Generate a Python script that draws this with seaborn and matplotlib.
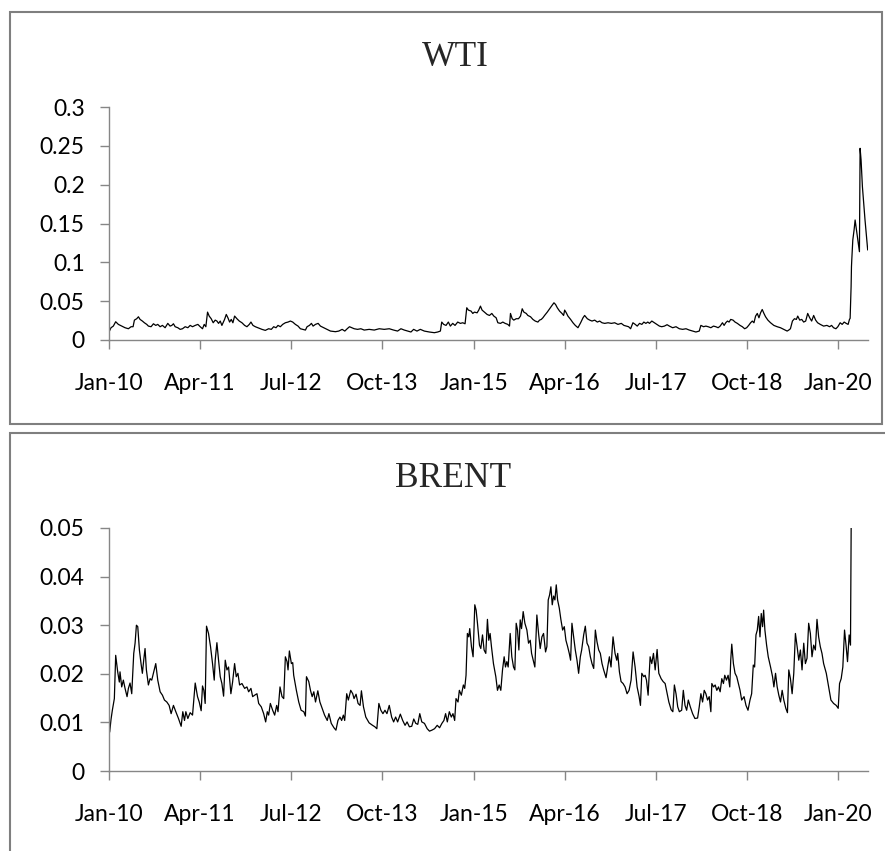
"""
WTI and BRENT volatility, Jan-2010 to May-2020, two stacked panels.
"""

import matplotlib.pyplot as plt
import matplotlib.dates as mdates
from matplotlib.patches import Rectangle
from matplotlib.ticker import FixedLocator, FuncFormatter
import numpy as np
import pandas as pd
import seaborn as sns

sns.set_style("white")
plt.rcParams["font.family"] = ["Lato", "DejaVu Sans"]

# x = months after Jan-2010
wti_months = [
    0.00, 0.33, 0.71, 1.10, 1.54, 2.09, 2.64, 3.19, 3.63, 3.96,
    4.18, 4.56, 4.84, 5.11, 5.49, 5.82, 6.21, 6.48, 6.92, 7.31,
    7.69, 8.02, 8.41, 8.79, 9.23, 9.67, 10.05, 10.33, 10.60, 10.88,
    11.32, 11.70, 12.09, 12.53, 12.97, 13.35, 13.74, 14.18, 14.62, 15.00,
    15.38, 15.66, 15.93, 16.21, 16.48, 16.81, 17.14, 17.47, 17.75, 18.02,
    18.30, 18.57, 19.01, 19.29, 19.56, 19.84, 20.11, 20.38, 20.66, 21.04,
    21.43, 21.87, 22.31, 22.69, 23.08, 23.35, 23.68, 24.07, 24.62, 25.16,
    25.71, 26.26, 26.70, 27.09, 27.47, 27.80, 28.19, 28.57, 29.01, 29.45,
    29.84, 30.22, 30.66, 31.10, 31.48, 31.87, 32.31, 32.58, 32.97, 33.30,
    33.57, 33.96, 34.40, 34.78, 35.33, 35.88, 36.43, 37.25, 37.80, 38.35,
    38.79, 39.18, 39.56,
    40.33, 40.88, 41.43, 41.98, 42.80, 43.63, 44.45, 45.27, 46.10, 46.81,
    47.47, 48.02, 48.57, 49.12, 49.67, 50.11, 50.66, 51.21, 51.87, 52.69,
    53.52, 54.07, 54.51, 54.73, 55.05, 55.44, 55.82, 56.15, 56.54, 56.92,
    57.36, 57.80, 58.19, 58.57, 58.85, 59.12, 59.56, 59.84, 60.11, 60.55,
    60.82, 61.10, 61.37, 61.76, 62.20, 62.58, 62.97, 63.30, 63.68, 63.96,
    64.40, 64.78, 65.16, 65.60, 65.88, 66.04, 66.32, 66.59, 66.98, 67.36,
    67.69, 67.97, 68.24, 68.63, 68.90, 69.34, 69.73, 70.11, 70.55, 70.82,
    71.10, 71.37, 71.65, 72.09, 72.47, 72.86, 73.19, 73.46, 73.74, 74.12,
    74.51, 74.78, 74.95, 75.22, 75.49, 75.93, 76.32, 76.70, 77.14, 77.58,
    77.97, 78.24, 78.68, 79.07, 79.45, 79.89, 80.33, 80.71, 81.10,
    81.54, 82.09, 82.63, 83.18, 83.72, 84.27, 84.70, 85.09, 85.47, 85.80,
    86.18, 86.56, 86.89, 87.27, 87.65, 87.98, 88.31, 88.63, 88.91, 89.29,
    89.72, 90.16, 90.54, 90.92, 91.36, 91.80, 92.18, 92.72, 93.27, 93.81,
    94.36, 94.91, 95.45, 96.00, 96.54, 97.09, 97.36, 97.80, 98.18, 98.56,
    99.00, 99.43, 99.82, 100.20, 100.53, 100.91, 101.18, 101.45, 101.73, 102.00,
    102.27, 102.65, 102.98, 103.36, 103.80, 104.18, 104.56, 104.89, 105.22, 105.54,
    105.82, 106.09, 106.36, 106.64, 106.91, 107.18, 107.45, 107.73, 108.00, 108.38,
    108.82, 109.36, 109.91, 110.45, 111.00, 111.55, 111.82, 112.09, 112.42, 112.75,
    113.07, 113.29, 113.62, 113.95, 114.27, 114.60, 114.93, 115.26, 115.58, 115.91,
    116.24, 116.56, 117.00, 117.55, 118.09, 118.53, 118.86, 119.18, 119.57, 119.89,
    120.27, 120.60, 120.93, 121.26, 121.58, 121.80,
    121.91, 122.07, 122.13, 122.18, 122.35, 122.56, 122.73, 122.95, 123.16, 123.44,
    123.55, 123.71, 123.93, 124.36, 124.80,
]
wti_values = [
    0.0103, 0.0158, 0.0179, 0.0235, 0.0201, 0.0179, 0.0158, 0.0145, 0.0171, 0.0171,
    0.0256, 0.0274, 0.0299, 0.0265, 0.0244, 0.0222, 0.0201, 0.0179, 0.0171, 0.0209,
    0.0188, 0.0201, 0.0171, 0.0188, 0.0158, 0.0214, 0.0179, 0.0188, 0.0209, 0.0171,
    0.0158, 0.0137, 0.0145, 0.0171, 0.0158, 0.0188, 0.0171, 0.0188, 0.0201, 0.0171,
    0.0145, 0.0201, 0.0171, 0.0359, 0.0308, 0.0274, 0.0222, 0.0256, 0.0244, 0.0214,
    0.0244, 0.0188, 0.0265, 0.0329, 0.0286, 0.0231, 0.0265, 0.0222, 0.0308, 0.0274,
    0.0244, 0.0222, 0.0188, 0.0171, 0.0201, 0.0231, 0.0188, 0.0171, 0.0154, 0.0137,
    0.0124, 0.0145, 0.0137, 0.0171, 0.0158, 0.0188, 0.0171, 0.0201, 0.0222, 0.0231,
    0.0244, 0.0231, 0.0201, 0.0179, 0.0145, 0.0137, 0.0128, 0.0171, 0.0188, 0.0214,
    0.0179, 0.0201, 0.0214, 0.0179, 0.0158, 0.0137, 0.0115, 0.0107, 0.0115, 0.0137,
    0.0115, 0.0145, 0.0171,
    0.0145, 0.0137, 0.0145, 0.0128, 0.0137, 0.0128, 0.0145, 0.0137, 0.0145, 0.0128,
    0.0115, 0.0145, 0.0128, 0.0115, 0.0103, 0.0137, 0.0115, 0.0137, 0.0115, 0.0103,
    0.0094, 0.0103, 0.0115, 0.0231, 0.0201, 0.0188, 0.0231, 0.0179, 0.0214, 0.0188,
    0.0231, 0.0214, 0.0222, 0.0209, 0.0415, 0.0385, 0.0372, 0.0342, 0.0359, 0.0350,
    0.0385, 0.0436, 0.0385, 0.0359, 0.0329, 0.0316, 0.0342, 0.0308, 0.0286, 0.0222,
    0.0214, 0.0231, 0.0214, 0.0201, 0.0179, 0.0342, 0.0274, 0.0256, 0.0274, 0.0274,
    0.0308, 0.0402, 0.0359, 0.0342, 0.0316, 0.0299, 0.0265, 0.0244, 0.0231, 0.0256,
    0.0265, 0.0286, 0.0316, 0.0359, 0.0402, 0.0444, 0.0479, 0.0457, 0.0415, 0.0372,
    0.0342, 0.0316, 0.0385, 0.0350, 0.0308, 0.0265, 0.0222, 0.0188, 0.0158, 0.0222,
    0.0286, 0.0316, 0.0274, 0.0256, 0.0244, 0.0256, 0.0231, 0.0244, 0.0222,
    0.0214, 0.0222, 0.0214, 0.0222, 0.0201, 0.0214, 0.0188, 0.0179, 0.0171, 0.0145,
    0.0222, 0.0201, 0.0179, 0.0214, 0.0201, 0.0231, 0.0214, 0.0231, 0.0214, 0.0244,
    0.0222, 0.0201, 0.0179, 0.0171, 0.0179, 0.0197, 0.0179, 0.0158, 0.0171, 0.0145,
    0.0137, 0.0145, 0.0128, 0.0115, 0.0103, 0.0115, 0.0188, 0.0171, 0.0179, 0.0171,
    0.0158, 0.0179, 0.0171, 0.0158, 0.0179, 0.0222, 0.0188, 0.0222, 0.0244, 0.0231,
    0.0265, 0.0256, 0.0231, 0.0214, 0.0188, 0.0171, 0.0145, 0.0158, 0.0188, 0.0222,
    0.0244, 0.0222, 0.0308, 0.0342, 0.0286, 0.0350, 0.0393, 0.0342, 0.0299, 0.0256,
    0.0222, 0.0188, 0.0171, 0.0158, 0.0137, 0.0115, 0.0128, 0.0145, 0.0244, 0.0274,
    0.0265, 0.0308, 0.0256, 0.0265, 0.0231, 0.0244, 0.0342, 0.0286, 0.0244, 0.0316,
    0.0256, 0.0222, 0.0201, 0.0179, 0.0188, 0.0171, 0.0188, 0.0158, 0.0145, 0.0171,
    0.0222, 0.0201, 0.0231, 0.0214, 0.0201, 0.0265,
    0.0279, 0.0687, 0.0944, 0.1030, 0.1288, 0.1416, 0.1545, 0.1416, 0.1288, 0.1137,
    0.2468, 0.2318, 0.1974, 0.1545, 0.1159,
]

brent_months = [
    0.11, 0.33, 0.55, 0.88, 1.10, 1.43, 1.70, 1.81, 2.09, 2.36,
    2.64, 2.97, 3.19, 3.46, 3.74, 4.07, 4.29, 4.51, 4.73, 5.00,
    5.27, 5.49, 5.71, 5.93, 6.15, 6.48, 6.76, 7.03, 7.36, 7.69,
    8.02, 8.41, 8.79, 9.12, 9.51, 9.89, 10.22, 10.60, 10.99, 11.43,
    11.87, 12.14, 12.42, 12.64, 12.97, 13.35, 13.74, 14.18, 14.56, 14.84,
    15.16, 15.38, 15.60, 15.82, 16.04, 16.37, 16.70, 17.03, 17.31, 17.47,
    17.75, 18.02, 18.30, 18.57, 18.85, 19.12, 19.40, 19.67, 20.05, 20.33,
    20.66, 20.93, 21.21, 21.48, 21.87, 22.31, 22.69, 22.97, 23.35, 23.63,
    23.96, 24.34, 24.62, 25.05, 25.44, 25.77, 26.04, 26.26, 26.54, 26.92,
    27.25, 27.58, 27.80, 28.13, 28.46, 28.74, 29.01, 29.29, 29.45, 29.67,
    30.00, 30.22,
    30.38, 30.82, 31.21, 31.60, 32.04, 32.31, 32.48, 32.86, 33.14, 33.42,
    33.69, 33.97, 34.35, 34.69, 35.07, 35.46, 35.90, 36.17, 36.56, 37.00,
    37.33, 37.66, 37.99, 38.27, 38.55, 38.77, 39.10, 39.37, 39.76, 40.09,
    40.31, 40.64, 40.97, 41.30, 41.52, 41.86, 42.24, 42.79, 43.35, 43.73,
    44.06, 44.39, 44.72, 45.06, 45.39, 45.72, 46.10, 46.49, 46.82, 47.15,
    47.48, 47.92, 48.31, 48.70, 49.03, 49.41, 49.80, 50.13, 50.46, 50.79,
    51.12, 51.45, 51.89, 52.34, 52.72, 53.11, 53.55, 53.99, 54.38, 54.76,
    55.09, 55.37, 55.65, 55.98, 56.31, 56.58, 56.86, 57.08, 57.41, 57.63,
    57.96, 58.29, 58.51, 58.73, 58.95, 59.18, 59.34, 59.62, 59.89, 60.17,
    60.39, 60.61, 60.94, 61.16, 61.44,
    61.70, 61.98, 62.25, 62.47, 62.69, 62.91, 63.24, 63.63, 63.90, 64.18,
    64.45, 64.73, 65.00, 65.22, 65.44, 65.66, 65.99, 66.26, 66.54, 66.76,
    66.98, 67.20, 67.42, 67.64, 67.86, 68.13, 68.41, 68.74, 69.01, 69.29,
    69.51, 69.78, 70.05, 70.38, 70.66, 70.93, 71.21, 71.48, 71.81, 72.03,
    72.25, 72.47, 72.69, 72.91, 73.13, 73.35, 73.57, 73.79, 74.07, 74.34,
    74.62, 74.89, 75.16, 75.44, 75.71, 75.93, 76.15, 76.43, 76.70, 76.98,
    77.25, 77.53, 77.75, 78.08, 78.35, 78.63, 78.90, 79.18, 79.45, 79.73,
    80.00, 80.27, 80.55, 80.82, 81.10, 81.37, 81.76, 82.03, 82.31, 82.58,
    82.91, 83.24, 83.52, 83.68, 83.96, 84.23, 84.56, 84.89, 85.22, 85.55,
    85.88, 86.21, 86.54, 86.87, 87.20, 87.42, 87.64, 87.97, 88.19, 88.41,
    88.68, 89.01, 89.28, 89.56, 89.84, 90.16, 90.44, 90.82, 91.15, 91.48,
    91.81, 92.09, 92.47, 92.75,
    93.00, 93.27, 93.55, 93.82, 94.20, 94.47, 94.75, 95.02, 95.29, 95.62,
    96.00, 96.38, 96.82, 97.09, 97.36, 97.64, 97.91, 98.18, 98.46, 98.73,
    99.00, 99.16, 99.44, 99.71, 99.98, 100.26, 100.53, 100.80, 101.07, 101.29,
    101.57, 101.84, 102.11, 102.27, 102.44, 102.71, 102.98, 103.26, 103.53, 103.80,
    104.07, 104.46, 104.78, 105.11, 105.44, 105.71, 105.98, 106.20, 106.42, 106.64,
    106.86, 107.08, 107.29, 107.51, 107.68, 107.89, 108.17, 108.44, 108.82, 109.15,
    109.37, 109.64, 109.91, 110.18, 110.46, 110.73, 111.00, 111.33, 111.60, 111.82,
    112.09, 112.37, 112.64, 112.91, 113.19, 113.46, 113.73, 114.00, 114.28, 114.55,
    114.82, 115.09, 115.37, 115.64, 115.91, 116.19, 116.46, 116.73, 117.00, 117.28,
    117.55, 117.99, 118.37, 118.75, 119.19, 119.62, 119.95, 120.17, 120.44, 120.71,
    120.99, 121.26, 121.48, 121.75, 121.97, 122.08,
]
brent_values = [
    0.0080, 0.0106, 0.0125, 0.0149, 0.0238, 0.0204, 0.0183, 0.0204, 0.0173, 0.0187,
    0.0170, 0.0153, 0.0170, 0.0181, 0.0159, 0.0242, 0.0263, 0.0300, 0.0297, 0.0249,
    0.0221, 0.0201, 0.0228, 0.0252, 0.0208, 0.0177, 0.0190, 0.0187, 0.0204, 0.0221,
    0.0187, 0.0163, 0.0156, 0.0146, 0.0142, 0.0135, 0.0118, 0.0135, 0.0122, 0.0108,
    0.0092, 0.0122, 0.0104, 0.0122, 0.0108, 0.0120, 0.0115, 0.0181, 0.0153, 0.0142,
    0.0124, 0.0175, 0.0166, 0.0139, 0.0298, 0.0283, 0.0256, 0.0221, 0.0187, 0.0228,
    0.0264, 0.0228, 0.0194, 0.0180, 0.0154, 0.0228, 0.0208, 0.0214, 0.0159, 0.0183,
    0.0221, 0.0194, 0.0201, 0.0177, 0.0180, 0.0170, 0.0173, 0.0163, 0.0170, 0.0153,
    0.0156, 0.0159, 0.0139, 0.0132, 0.0118, 0.0101, 0.0122, 0.0115, 0.0139, 0.0125,
    0.0115, 0.0135, 0.0122, 0.0173, 0.0153, 0.0149, 0.0235, 0.0225, 0.0208, 0.0247,
    0.0221, 0.0223,
    0.0197, 0.0166, 0.0142, 0.0125, 0.0122, 0.0113, 0.0194, 0.0184, 0.0166, 0.0153,
    0.0163, 0.0142, 0.0165, 0.0142, 0.0129, 0.0115, 0.0104, 0.0118, 0.0098, 0.0089,
    0.0084, 0.0104, 0.0111, 0.0104, 0.0115, 0.0104, 0.0159, 0.0146, 0.0166, 0.0159,
    0.0149, 0.0158, 0.0139, 0.0135, 0.0165, 0.0132, 0.0111, 0.0099, 0.0094, 0.0091,
    0.0087, 0.0139, 0.0125, 0.0118, 0.0125, 0.0118, 0.0135, 0.0111, 0.0101, 0.0111,
    0.0101, 0.0117, 0.0104, 0.0094, 0.0101, 0.0091, 0.0092, 0.0107, 0.0098, 0.0096,
    0.0118, 0.0101, 0.0098, 0.0087, 0.0082, 0.0084, 0.0087, 0.0094, 0.0089, 0.0098,
    0.0104, 0.0118, 0.0101, 0.0122, 0.0111, 0.0118, 0.0104, 0.0149, 0.0142, 0.0166,
    0.0156, 0.0177, 0.0170, 0.0197, 0.0283, 0.0276, 0.0293, 0.0256, 0.0235, 0.0342,
    0.0331, 0.0304, 0.0259, 0.0252, 0.0280,
    0.0249, 0.0242, 0.0312, 0.0269, 0.0283, 0.0256, 0.0221, 0.0194, 0.0166, 0.0177,
    0.0166, 0.0208, 0.0235, 0.0214, 0.0225, 0.0214, 0.0283, 0.0235, 0.0214, 0.0208,
    0.0304, 0.0290, 0.0249, 0.0311, 0.0293, 0.0328, 0.0304, 0.0290, 0.0263, 0.0269,
    0.0242, 0.0228, 0.0214, 0.0321, 0.0283, 0.0252, 0.0276, 0.0283, 0.0245, 0.0256,
    0.0352, 0.0362, 0.0379, 0.0342, 0.0360, 0.0352, 0.0383, 0.0352, 0.0335, 0.0311,
    0.0290, 0.0297, 0.0269, 0.0256, 0.0242, 0.0228, 0.0304, 0.0276, 0.0249, 0.0228,
    0.0201, 0.0235, 0.0249, 0.0280, 0.0298, 0.0263, 0.0256, 0.0235, 0.0221, 0.0211,
    0.0290, 0.0266, 0.0249, 0.0242, 0.0221, 0.0208, 0.0192, 0.0214, 0.0235, 0.0214,
    0.0276, 0.0242, 0.0228, 0.0242, 0.0204, 0.0184, 0.0180, 0.0173, 0.0159, 0.0166,
    0.0187, 0.0245, 0.0214, 0.0173, 0.0153, 0.0135, 0.0201, 0.0194, 0.0197, 0.0187,
    0.0156, 0.0235, 0.0221, 0.0242, 0.0208, 0.0250, 0.0201, 0.0190, 0.0184, 0.0180,
    0.0159, 0.0142, 0.0126, 0.0122,
    0.0177, 0.0159, 0.0132, 0.0122, 0.0125, 0.0166, 0.0135, 0.0125, 0.0146, 0.0132,
    0.0118, 0.0108, 0.0109, 0.0132, 0.0159, 0.0142, 0.0166, 0.0159, 0.0146, 0.0153,
    0.0122, 0.0180, 0.0173, 0.0177, 0.0166, 0.0173, 0.0163, 0.0190, 0.0180, 0.0197,
    0.0187, 0.0197, 0.0173, 0.0228, 0.0261, 0.0221, 0.0201, 0.0194, 0.0180, 0.0166,
    0.0146, 0.0153, 0.0135, 0.0125, 0.0146, 0.0159, 0.0218, 0.0214, 0.0280, 0.0290,
    0.0318, 0.0276, 0.0324, 0.0297, 0.0331, 0.0290, 0.0259, 0.0235, 0.0214, 0.0194,
    0.0173, 0.0201, 0.0173, 0.0156, 0.0142, 0.0166, 0.0146, 0.0129, 0.0120, 0.0208,
    0.0190, 0.0159, 0.0201, 0.0283, 0.0256, 0.0228, 0.0249, 0.0208, 0.0263, 0.0221,
    0.0232, 0.0304, 0.0283, 0.0235, 0.0259, 0.0249, 0.0312, 0.0276, 0.0256, 0.0242,
    0.0221, 0.0201, 0.0173, 0.0146, 0.0139, 0.0135, 0.0129, 0.0180, 0.0190, 0.0214,
    0.0290, 0.0256, 0.0225, 0.0280, 0.0259, 0.0502,
]

wti_yticks = [0, 0.05, 0.1, 0.15, 0.2, 0.25, 0.3]
brent_yticks = [0, 0.01, 0.02, 0.03, 0.04, 0.05]
tick_dates = ["2010-01-01", "2011-04-01", "2012-07-01", "2013-10-01", "2015-01-01",
              "2016-04-01", "2017-07-01", "2018-10-01", "2020-01-01"]

START = pd.Timestamp("2010-01-01")
AXIS_GREY = "#868686"
W, H = 885, 851


def to_dates(months):
    return START + pd.to_timedelta(np.asarray(months) * 30.4375, unit="D")


def draw_panel(ax, months, values, yticks):
    df = pd.DataFrame({"Date": to_dates(months), "Vol": values})
    sns.lineplot(data=df, x="Date", y="Vol", ax=ax, color="black",
                 linewidth=0.9, estimator=None, sort=False)
    ax.set_xlim(START, to_dates([124.85])[0])
    ax.set_ylim(yticks[0], yticks[-1])
    ax.yaxis.set_major_locator(FixedLocator(yticks))
    ax.yaxis.set_major_formatter(FuncFormatter(lambda v, _: f"{v:g}"))
    ax.xaxis.set_major_locator(FixedLocator(mdates.date2num(pd.to_datetime(tick_dates))))
    ax.xaxis.set_major_formatter(mdates.DateFormatter("%b-%y"))
    ax.set_xlabel("")
    ax.set_ylabel("")
    for side in ("top", "right"):
        ax.spines[side].set_visible(False)
    for side in ("left", "bottom"):
        ax.spines[side].set_color(AXIS_GREY)
        ax.spines[side].set_linewidth(1.0)
    ax.tick_params(axis="both", which="major", direction="out", length=6.5, width=1.0,
                   color=AXIS_GREY, labelsize=16.5, labelcolor="black",
                   left=True, bottom=True)
    ax.tick_params(axis="y", pad=11)
    ax.tick_params(axis="x", pad=17.5)


def px_axes(fig, left, top, right, bottom):
    return fig.add_axes([left / W, 1 - bottom / H, (right - left) / W, (bottom - top) / H])


def main():
    fig = plt.figure(figsize=(W / 100, H / 100), dpi=100)

    # chart-area frames
    fig.add_artist(Rectangle((10 / W, 1 - 424 / H), 872 / W, 412 / H, transform=fig.transFigure,
                             fill=False, edgecolor="#7f7f7f", linewidth=1.5))
    fig.add_artist(Rectangle((10 / W, 1 - 870 / H), 890 / W, 437 / H, transform=fig.transFigure,
                             fill=False, edgecolor="#7f7f7f", linewidth=1.5))

    ax_wti = px_axes(fig, 109, 107, 868, 340)
    draw_panel(ax_wti, wti_months, wti_values, wti_yticks)
    ax_brent = px_axes(fig, 109, 528, 868, 771)
    draw_panel(ax_brent, brent_months, brent_values, brent_yticks)

    title_font = dict(family=["Liberation Serif", "DejaVu Serif"], size=25.5,
                      ha="center", va="baseline")
    fig.text(455 / W, 1 - 66.5 / H, "WTI", **title_font)
    fig.text(453 / W, 1 - 487 / H, "BRENT", **title_font)

    fig.savefig("out.png", dpi=100)
    plt.close(fig)


if __name__ == "__main__":
    main()
